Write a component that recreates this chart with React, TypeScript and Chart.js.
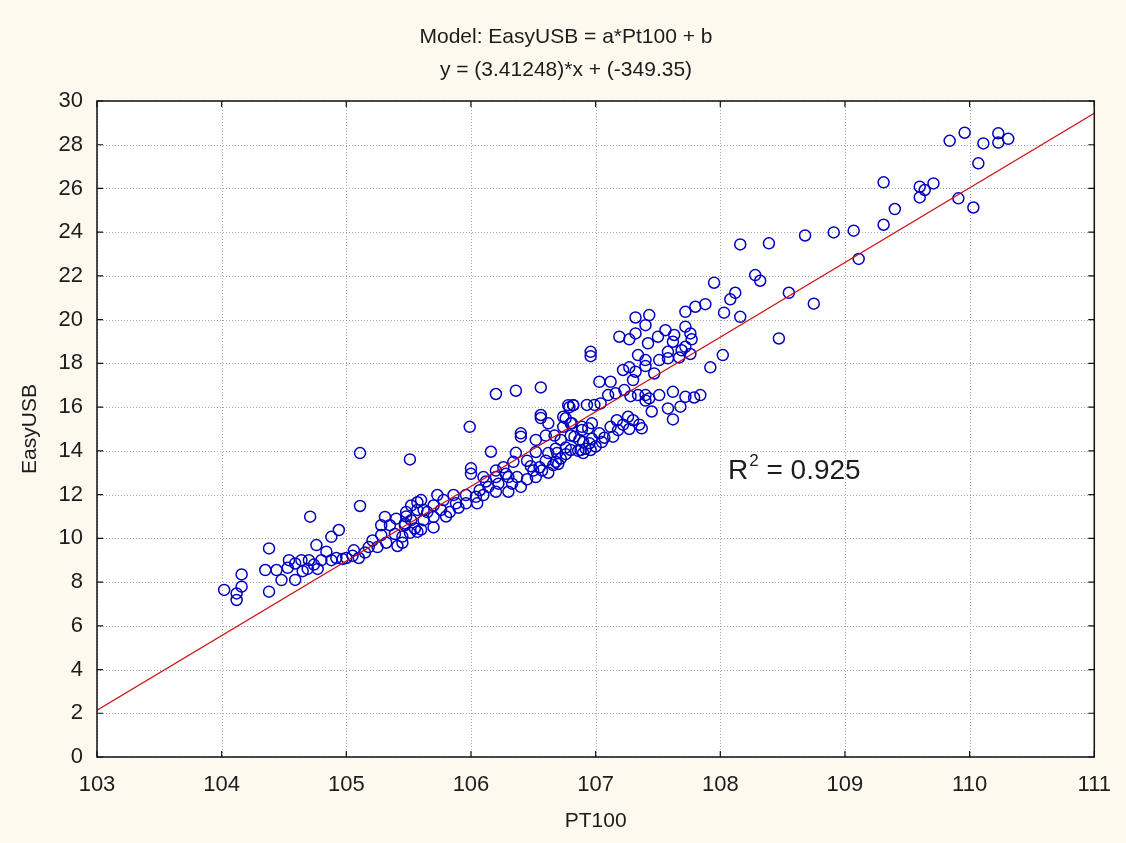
import React, { useEffect, useRef } from "react";
import { Chart, registerables } from "chart.js";

Chart.register(...registerables);

const titleLines = ["Model: EasyUSB = a*Pt100 + b", "y = (3.41248)*x + (-349.35)"];
const xAxisTitle = "PT100";
const yAxisTitle = "EasyUSB";
const r2Label = "0.925";

const xTicks = [103, 104, 105, 106, 107, 108, 109, 110, 111];
const yTicks = [0, 2, 4, 6, 8, 10, 12, 14, 16, 18, 20, 22, 24, 26, 28, 30];

// regression line end points
const fitLine = [
  { x: 103, y: 2.14 },
  { x: 111, y: 29.44 },
];

// observed points [PT100, EasyUSB]
const lowPoints: [number, number][] = [
  [104.02, 7.64], [104.12, 7.48], [104.12, 7.18], [104.16, 7.79], [104.16, 8.35],
  [104.38, 9.54], [104.35, 8.55], [104.38, 7.56], [104.44, 8.55], [104.48, 8.09],
  [104.54, 9.0], [104.53, 8.65], [104.59, 8.85], [104.59, 8.1], [104.64, 9.0],
  [104.65, 8.5], [104.69, 8.6], [104.71, 10.99], [104.7, 9.0], [104.76, 9.69],
  [104.77, 8.6], [104.74, 8.8], [104.84, 9.39], [104.88, 10.07], [104.88, 9.0],
  [104.94, 10.38], [104.8, 9.0], [104.92, 9.1], [105.0, 9.1], [105.06, 9.45],
  [105.1, 9.1], [105.11, 11.48], [105.11, 13.9], [105.21, 9.9], [105.25, 9.6],
  [105.28, 10.6], [105.31, 10.98], [105.28, 10.15], [105.32, 9.8], [105.35, 10.6],
  [105.39, 10.2], [105.4, 10.9], [105.41, 9.65], [105.47, 10.6], [105.48, 11.0],
  [105.51, 10.25], [105.57, 11.65], [105.57, 10.3], [105.62, 11.3], [105.05, 9.2],
  [105.15, 9.35], [105.18, 9.6], [104.97, 9.05],
];

const midPoints: [number, number][] = [
  [106.2, 16.6], [106.36, 16.75], [106.56, 16.9], [105.99, 15.1], [105.51, 13.61],
  [106.16, 13.96], [106.36, 13.91], [106.56, 15.64], [106.56, 15.5], [106.4, 14.8],
  [106.4, 14.65], [106.78, 16.09], [106.82, 16.09], [106.93, 16.1], [106.62, 15.26],
  [106.76, 15.49], [106.8, 15.26], [106.89, 15.1], [106.97, 15.26], [106.52, 14.5],
  [106.6, 14.7], [106.67, 14.7], [106.72, 14.5], [106.8, 14.7], [106.87, 14.5],
  [106.95, 14.35], [106.86, 14.0], [106.92, 14.1], [106.76, 14.15], [106.68, 14.1],
  [106.62, 13.9], [106.52, 13.95], [106.6, 13.55], [106.68, 13.5], [106.45, 13.55],
  [106.5, 13.1], [106.57, 13.1], [106.34, 13.5], [106.26, 13.25], [106.2, 13.1],
  [106.0, 13.2], [106.0, 12.95], [106.1, 12.8], [106.2, 12.8], [106.3, 12.8],
  [106.37, 12.8], [106.45, 12.7], [106.52, 12.8], [106.22, 12.5], [106.33, 12.5],
  [106.4, 12.35], [106.14, 12.35], [106.07, 12.2], [105.96, 11.98], [106.04, 11.9],
  [106.1, 11.98], [106.2, 12.13], [106.3, 12.13], [105.96, 11.6], [106.05, 11.6],
  [105.86, 11.98], [105.88, 11.6], [105.78, 11.75], [105.73, 11.98], [105.7, 11.5],
  [105.6, 11.75], [105.52, 11.5], [105.48, 11.2], [105.57, 11.3], [105.65, 11.2],
  [105.76, 11.3], [105.83, 11.2], [105.7, 10.98], [105.62, 10.83], [105.52, 10.83],
  [105.47, 10.68], [105.55, 10.45], [105.6, 10.4], [105.7, 10.5], [105.45, 10.08],
  [105.45, 9.8], [105.8, 11.0], [105.9, 11.4], [106.12, 12.6], [106.55, 13.25],
  [106.62, 13.0], [106.66, 13.35], [106.72, 13.65], [106.76, 13.85], [106.9, 13.9],
  [107.0, 14.2], [107.05, 14.4], [106.48, 13.3], [106.28, 12.95],
];

const highPoints: [number, number][] = [
  [106.74, 15.56], [106.74, 15.1], [106.83, 14.65], [106.9, 14.4], [106.8, 14.04],
  [106.88, 14.04], [106.96, 14.04], [106.7, 13.4], [106.69, 13.9], [106.81, 15.26],
  [106.94, 15.03], [106.89, 14.95], [106.97, 14.55], [107.03, 14.8], [107.07, 14.6],
  [107.14, 14.65], [107.12, 15.1], [107.17, 15.4], [107.22, 15.2], [107.27, 15.0],
  [107.37, 15.03], [107.3, 15.4], [107.26, 15.56], [107.62, 15.44], [107.68, 16.02],
  [107.58, 15.94], [107.84, 16.55], [107.79, 16.44], [107.72, 16.47], [107.62, 16.7],
  [106.79, 16.0], [106.82, 16.09], [106.99, 16.1], [107.04, 16.17], [107.1, 16.55],
  [107.28, 16.5], [107.4, 16.3], [107.51, 16.55], [107.43, 16.4], [107.4, 16.55],
  [107.34, 16.55], [107.16, 16.63], [107.23, 16.78], [107.3, 17.24], [107.12, 17.16],
  [107.03, 17.16], [106.96, 18.33], [106.96, 18.53], [107.32, 17.62], [107.22, 17.7],
  [107.27, 17.82], [107.4, 18.15], [107.34, 18.38], [107.4, 17.88], [107.47, 17.54],
  [107.51, 18.15], [107.67, 18.27], [107.58, 18.23], [107.58, 18.53], [107.69, 18.6],
  [107.76, 18.43], [107.72, 18.76], [107.62, 18.99], [107.77, 19.1], [107.76, 19.37],
  [107.72, 19.68], [107.63, 19.3], [107.56, 19.52], [107.5, 19.22], [107.42, 18.92],
  [107.32, 19.37], [107.27, 19.1], [107.19, 19.22], [107.4, 19.75], [107.43, 20.21],
  [107.32, 20.1], [107.72, 20.36], [107.8, 20.59], [107.88, 20.71], [108.03, 20.32],
  [108.08, 20.93], [108.12, 21.23], [107.95, 21.69], [107.92, 17.82], [108.02, 18.38],
  [107.45, 15.8], [107.35, 15.2], [107.18, 14.95],
];

const topPoints: [number, number][] = [
  [109.84, 28.18], [109.96, 28.55], [110.11, 28.06], [110.23, 28.52], [110.23, 28.1],
  [110.31, 28.27], [110.07, 27.15], [109.31, 26.28], [109.6, 26.08], [109.64, 25.93],
  [109.71, 26.23], [109.6, 25.59], [109.91, 25.55], [110.03, 25.13], [109.4, 25.06],
  [109.31, 24.34], [109.07, 24.07], [108.91, 23.99], [108.68, 23.85], [108.39, 23.49],
  [108.16, 23.44], [109.11, 22.78], [108.28, 22.04], [108.32, 21.78], [108.55, 21.23],
  [108.75, 20.73], [108.16, 20.13], [108.47, 19.14],
];

const allPoints = [...lowPoints, ...midPoints, ...highPoints, ...topPoints].map(
  ([x, y]) => ({ x, y })
);

const FONT = "Arial, 'Liberation Sans', sans-serif";
const TEXT = "#1c1c1c";

const decor = {
  id: "decor",
  beforeDraw(chart: any) {
    const { ctx, chartArea: a } = chart;
    ctx.save();
    ctx.fillStyle = "#fdf9ef";
    ctx.fillRect(0, 0, chart.width, chart.height);
    ctx.fillStyle = "#ffffff";
    ctx.fillRect(a.left, a.top, a.right - a.left, a.bottom - a.top);
    ctx.restore();
  },
  beforeDatasetsDraw(chart: any) {
    const { ctx, chartArea: a, scales } = chart;
    const xs = scales.x;
    const ys = scales.y;
    ctx.save();
    ctx.strokeStyle = "#a8a8a8";
    ctx.lineWidth = 1;
    ctx.setLineDash([1, 2]);
    ctx.beginPath();
    xTicks.forEach((v) => {
      const px = Math.round(xs.getPixelForValue(v)) + 0.5;
      ctx.moveTo(px, a.top);
      ctx.lineTo(px, a.bottom);
    });
    yTicks.forEach((v) => {
      const py = Math.round(ys.getPixelForValue(v)) + 0.5;
      ctx.moveTo(a.left, py);
      ctx.lineTo(a.right, py);
    });
    ctx.stroke();
    ctx.restore();
  },
  afterDatasetsDraw(chart: any) {
    const { ctx, chartArea: a, scales } = chart;
    const xs = scales.x;
    const ys = scales.y;
    ctx.save();
    ctx.strokeStyle = "#111";
    ctx.lineWidth = 1.5;
    ctx.strokeRect(a.left, a.top, a.right - a.left, a.bottom - a.top);
    ctx.lineWidth = 1.2;
    const tl = 6;
    ctx.beginPath();
    xTicks.forEach((v) => {
      const px = xs.getPixelForValue(v);
      ctx.moveTo(px, a.bottom);
      ctx.lineTo(px, a.bottom - tl);
      ctx.moveTo(px, a.top);
      ctx.lineTo(px, a.top + tl);
    });
    yTicks.forEach((v) => {
      const py = ys.getPixelForValue(v);
      ctx.moveTo(a.left, py);
      ctx.lineTo(a.left + tl, py);
      ctx.moveTo(a.right, py);
      ctx.lineTo(a.right - tl, py);
    });
    ctx.stroke();

    // titles
    ctx.fillStyle = TEXT;
    ctx.textAlign = "center";
    ctx.textBaseline = "middle";
    ctx.font = `21px ${FONT}`;
    ctx.fillText(titleLines[0], 566, 37);
    ctx.fillText(titleLines[1], 566, 70);
    ctx.fillText(xAxisTitle, (a.left + a.right) / 2, 821);
    ctx.save();
    ctx.translate(30, (a.top + a.bottom) / 2);
    ctx.rotate(-Math.PI / 2);
    ctx.fillText(yAxisTitle, 0, 0);
    ctx.restore();

    // R^2 annotation
    ctx.textAlign = "left";
    ctx.textBaseline = "alphabetic";
    ctx.font = `28px ${FONT}`;
    const rx = 728;
    const ry = 479;
    ctx.fillText("R", rx, ry);
    const rw = ctx.measureText("R").width;
    ctx.font = `17px ${FONT}`;
    ctx.fillText("2", rx + rw + 1, ry - 13);
    const sw = ctx.measureText("2").width;
    ctx.font = `28px ${FONT}`;
    ctx.fillText(" = " + r2Label, rx + rw + sw + 1, ry);
    ctx.restore();
  },
};

export default function App() {
  const ref = useRef<HTMLCanvasElement>(null);
  useEffect(() => {
    document.body.style.margin = "0";
    const chart = new Chart(ref.current!, {
      type: "scatter",
      data: {
        datasets: [
          {
            type: "scatter",
            data: allPoints,
            pointStyle: "circle",
            pointRadius: 5.5,
            pointBorderWidth: 1.5,
            pointBorderColor: "#0000c0",
            pointBackgroundColor: "rgba(0,0,0,0)",
            order: 2,
          } as any,
          {
            type: "line",
            data: fitLine,
            borderColor: "#cc1111",
            borderWidth: 1.3,
            pointRadius: 0,
            fill: false,
            order: 1,
          } as any,
        ],
      },
      options: {
        responsive: false,
        animation: false,
        layout: { padding: { left: 0, right: 29, top: 101, bottom: 0 } },
        plugins: {
          legend: { display: false },
          tooltip: { enabled: false },
          title: { display: false },
        },
        scales: {
          x: {
            type: "linear",
            min: 103,
            max: 111,
            afterFit: (s: any) => {
              s.height = 86;
            },
            afterBuildTicks: (s: any) => {
              s.ticks = xTicks.map((v) => ({ value: v }));
            },
            border: { display: false },
            grid: { display: false, drawTicks: false },
            ticks: {
              padding: 15,
              color: TEXT,
              font: { size: 22, family: FONT },
              maxRotation: 0,
              autoSkip: false,
            },
          },
          y: {
            type: "linear",
            min: 0,
            max: 30,
            afterFit: (s: any) => {
              s.width = 97;
            },
            afterBuildTicks: (s: any) => {
              s.ticks = yTicks.map((v) => ({ value: v }));
            },
            border: { display: false },
            grid: { display: false, drawTicks: false },
            ticks: {
              padding: 14,
              color: TEXT,
              font: { size: 22, family: FONT },
              autoSkip: false,
            },
          },
        },
      },
      plugins: [decor],
    } as any);
    return () => chart.destroy();
  }, []);
  return (
    <div style={{ width: 1126, height: 843 }}>
      <canvas ref={ref} width={1126} height={843} />
    </div>
  );
}
